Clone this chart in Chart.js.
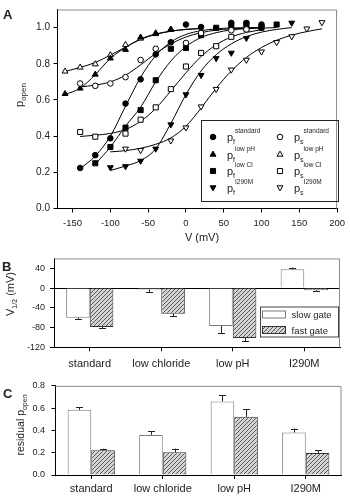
<!DOCTYPE html>
<html>
<head>
<meta charset="utf-8">
<script src="https://cdn.jsdelivr.net/npm/chart.js@4.4.1/dist/chart.umd.min.js"></script>
<style>
  body { margin: 0; background: #fff; }
  #wrap { position: relative; width: 350px; height: 499px; }
  canvas { position: absolute; left: 0; }
</style>
</head>
<body>
<div id="wrap">
  <canvas id="cA" width="350" height="245" style="top:0px"></canvas>
  <canvas id="cB" width="350" height="125" style="top:248px"></canvas>
  <canvas id="cC" width="350" height="125" style="top:374px"></canvas>
</div>
<script>
// ---- panel A: open probability vs voltage ----
const vStdF = [-140, -120, -100, -80, -60, -40, -20, 0, 20, 60, 80, 100];
const pStdF = [0.224, 0.295, 0.388, 0.58, 0.714, 0.852, 0.919, 1.017, 1.003, 1.026, 1.026, 1.017];
const vStdS = [-140, -120, -100, -80, -60, -40, 0, 20, 60, 80];
const pStdS = [0.691, 0.678, 0.691, 0.726, 0.821, 0.883, 0.915, 0.97, 0.985, 0.99];
const vPhF = [-160, -140, -120, -100, -80, -60, -40, -20];
const pPhF = [0.634, 0.664, 0.741, 0.83, 0.878, 0.946, 0.969, 0.99];
const vPhS = [-160, -140, -120, -100, -80, -60, -40, -20];
const pPhS = [0.758, 0.78, 0.798, 0.848, 0.905, 0.94, 0.965, 0.99];
const vClF = [-120, -100, -80, -60, -40, -20, 0, 20, 40, 60, 80, 100, 120];
const pClF = [0.25, 0.34, 0.447, 0.544, 0.709, 0.883, 0.887, 0.958, 0.999, 1.01, 1.02, 1.0, 1.017];
const vClS = [-140, -120, -80, -60, -40, -20, 0, 20, 40, 60, 80];
const pClS = [0.423, 0.397, 0.414, 0.491, 0.559, 0.66, 0.785, 0.86, 0.897, 0.949, 0.994];
const vIF = [-100, -80, -60, -40, -20, 0, 20, 40, 60, 80, 100, 140];
const pIF = [0.227, 0.233, 0.263, 0.33, 0.464, 0.63, 0.737, 0.83, 0.86, 0.942, 1.0, 1.026];
const vIS = [-80, -60, -20, 0, 20, 40, 60, 80, 100, 120, 140, 160, 180];
const pIS = [0.33, 0.322, 0.375, 0.447, 0.563, 0.66, 0.767, 0.821, 0.867, 0.919, 0.951, 0.994, 1.029];

// fitted curves
const fitVStdF = [-140, -120, -100, -80, -60, -40, -20, 0, 20, 40, 60, 100];
const fitPStdF = [0.22, 0.29, 0.40, 0.565, 0.725, 0.845, 0.92, 0.962, 0.983, 0.993, 0.998, 1.0];
const fitVStdS = [-140, -120, -100, -80, -60, -40, -20, 0, 20, 40, 60, 100];
const fitPStdS = [0.672, 0.682, 0.70, 0.737, 0.794, 0.857, 0.91, 0.948, 0.972, 0.986, 0.993, 1.0];
const fitVPhF = [-160, -140, -120, -100, -80, -60, -40, -20, 0, 20];
const fitPPhF = [0.63, 0.665, 0.74, 0.83, 0.89, 0.937, 0.965, 0.98, 0.99, 0.995];
const fitVPhS = [-160, -140, -120, -100, -80, -60, -40, -20, 0, 20];
const fitPPhS = [0.757, 0.78, 0.807, 0.848, 0.892, 0.935, 0.962, 0.98, 0.99, 0.995];
const fitVClF = [-120, -100, -80, -60, -40, -20, 0, 20, 40, 60, 80, 100, 120];
const fitPClF = [0.245, 0.34, 0.455, 0.56, 0.70, 0.815, 0.895, 0.945, 0.972, 0.987, 0.994, 0.997, 1.0];
const fitVClS = [-140, -120, -100, -80, -60, -40, -20, 0, 20, 40, 60, 80, 100];
const fitPClS = [0.398, 0.405, 0.415, 0.437, 0.482, 0.553, 0.65, 0.75, 0.84, 0.905, 0.948, 0.973, 0.988];
const fitVIF = [-100, -80, -60, -40, -20, 0, 20, 40, 60, 80, 100, 120, 140];
const fitPIF = [0.21, 0.235, 0.265, 0.33, 0.47, 0.63, 0.76, 0.85, 0.91, 0.95, 0.975, 0.99, 1.0];
const fitVIS = [-100, -80, -60, -40, -20, 0, 20, 40, 60, 80, 100, 120, 140, 160, 180];
const fitPIS = [0.313, 0.32, 0.333, 0.355, 0.39, 0.455, 0.555, 0.665, 0.76, 0.835, 0.89, 0.93, 0.958, 0.978, 0.993];

const legendSub = ['f', 's'];
const legendSup = ['standard', 'low pH', 'low Cl', 'I290M'];

// ---- panels B and C ----
const conditions = ['standard', 'low chloride', 'low pH', 'I290M'];
const vHalfSlow = [-60, -3, -77, 38];
const vHalfSlowErr = [3, 5, 15, 3.5];
const vHalfFast = [-79, -52, -101, -4.5];
const vHalfFastErr = [2, 5, 6, 2.5];
const resSlow = [0.585, 0.36, 0.661, 0.382];
const resSlowErr = [0.022, 0.035, 0.053, 0.035];
const resFast = [0.222, 0.204, 0.522, 0.198];
const resFastErr = [0.014, 0.033, 0.067, 0.024];

const FONT = '"Liberation Sans", Arial, Helvetica, sans-serif';
const TXT = '#222';

function pts(xs, ys) {
  return xs.map((x, i) => ({ x: x, y: ys[i] }));
}

function markers(xs, ys, style, filled, rot, r) {
  return {
    data: pts(xs, ys), showLine: false,
    pointStyle: style, pointRotation: rot || 0, pointRadius: r,
    pointBackgroundColor: filled ? '#000' : '#fff',
    pointBorderColor: '#000', pointBorderWidth: 1
  };
}

function fitLine(xs, ys) {
  return {
    data: pts(xs, ys), showLine: true, pointRadius: 0,
    borderColor: '#000', borderWidth: 1, cubicInterpolationMode: 'monotone', fill: false
  };
}

// writes text made of parts with own size / baseline shift (sub and superscripts)
function rich(ctx, parts, x, y, align, rotate) {
  ctx.save();
  ctx.translate(x, y);
  if (rotate) ctx.rotate(-Math.PI / 2);
  let w = 0;
  parts.forEach(p => { ctx.font = p.s + 'px ' + FONT; p.w = ctx.measureText(p.t).width; w += p.w; });
  let cx = align === 'center' ? -w / 2 : 0;
  ctx.fillStyle = TXT;
  ctx.textBaseline = 'alphabetic';
  ctx.textAlign = 'left';
  parts.forEach(p => {
    ctx.font = (p.b ? 'bold ' : '') + p.s + 'px ' + FONT;
    ctx.fillText(p.t, cx, p.dy || 0);
    cx += p.w;
  });
  ctx.restore();
}

const framePlugin = {
  id: 'frame',
  afterDraw(chart) {
    const { ctx, chartArea: a } = chart;
    ctx.save();
    ctx.strokeStyle = '#8a8a8a';
    ctx.lineWidth = 1;
    ctx.beginPath();
    ctx.moveTo(a.left, a.top + 0.5);
    ctx.lineTo(a.right - 0.5, a.top + 0.5);
    ctx.lineTo(a.right - 0.5, a.bottom);
    ctx.stroke();
    ctx.restore();
  }
};

const errorBars = {
  id: 'errorBars',
  afterDatasetsDraw(chart) {
    const ctx = chart.ctx;
    const y = chart.scales.y;
    chart.data.datasets.forEach((ds, di) => {
      const meta = chart.getDatasetMeta(di);
      meta.data.forEach((bar, i) => {
        const v = ds.data[i];
        const e = ds.errors[i];
        const end = y.getPixelForValue(v + (v < 0 ? -e : e));
        ctx.save();
        ctx.strokeStyle = '#222';
        ctx.lineWidth = 1;
        ctx.beginPath();
        ctx.moveTo(Math.round(bar.x) + 0.5, bar.y);
        ctx.lineTo(Math.round(bar.x) + 0.5, end);
        ctx.moveTo(Math.round(bar.x) - 3, Math.round(end) + 0.5);
        ctx.lineTo(Math.round(bar.x) + 4, Math.round(end) + 0.5);
        ctx.stroke();
        ctx.restore();
      });
    });
  }
};

function hatchPattern() {
  const c = document.createElement('canvas');
  c.width = 4; c.height = 4;
  const g = c.getContext('2d');
  g.fillStyle = '#d4d4d4';
  g.fillRect(0, 0, 4, 4);
  g.strokeStyle = '#5a5a5a';
  g.lineWidth = 1;
  g.beginPath();
  g.moveTo(0, 4); g.lineTo(4, 0);
  g.moveTo(-1, 1); g.lineTo(1, -1);
  g.moveTo(3, 5); g.lineTo(5, 3);
  g.stroke();
  return g.createPattern(c, 'repeat');
}
const hatch = hatchPattern();

function axisStyle(size, pad) {
  return {
    ticks: { font: { family: FONT, size: size }, color: TXT, padding: pad, maxRotation: 0 },
    grid: { drawOnChartArea: false, tickLength: 4, color: '#000', offset: false },
    border: { color: '#000', width: 1 }
  };
}

// ---------------- panel A ----------------
const datasetsA = [
  markers(vStdF, pStdF, 'circle', true, 0, 2.8),
  markers(vStdS, pStdS, 'circle', false, 0, 2.8),
  markers(vPhF, pPhF, 'triangle', true, 0, 3.4),
  markers(vPhS, pPhS, 'triangle', false, 0, 3.4),
  markers(vClF, pClF, 'rect', true, 0, 3.6),
  markers(vClS, pClS, 'rect', false, 0, 3.6),
  markers(vIF, pIF, 'triangle', true, 180, 3.4),
  markers(vIS, pIS, 'triangle', false, 180, 3.4),
  fitLine(fitVStdF, fitPStdF),
  fitLine(fitVStdS, fitPStdS),
  fitLine(fitVPhF, fitPPhF),
  fitLine(fitVPhS, fitPPhS),
  fitLine(fitVClF, fitPClF),
  fitLine(fitVClS, fitPClS),
  fitLine(fitVIF, fitPIF),
  fitLine(fitVIS, fitPIS)
];

const legendA = {
  id: 'legendA',
  afterDraw(chart) {
    const ctx = chart.ctx;
    ctx.save();
    ctx.strokeStyle = '#222';
    ctx.lineWidth = 1;
    ctx.strokeRect(201.5, 120.5, 137, 81);
    const rows = [137, 154.5, 171, 187.5];
    const symX = [213, 280];
    const txtX = [227, 294];
    rows.forEach((ry, r) => {
      for (let c = 0; c < 2; c++) {
        const ds = chart.data.datasets[r * 2 + c];
        ctx.fillStyle = ds.pointBackgroundColor;
        ctx.strokeStyle = '#000';
        ctx.lineWidth = 1;
        Chart.helpers.drawPoint(ctx, {
          pointStyle: ds.pointStyle, rotation: ds.pointRotation,
          radius: ds.pointRadius, borderWidth: 1
        }, symX[c], ry);
        rich(ctx, [
          { t: 'p', s: 11, dy: 4 },
          { t: legendSub[c], s: 7, dy: 7 },
          { t: legendSup[r], s: 6.5, dy: -4 }
        ], txtX[c], ry, 'left', false);
      }
    });
    ctx.restore();
  }
};

const labelsA = {
  id: 'labelsA',
  afterDraw(chart) {
    const ctx = chart.ctx;
    rich(ctx, [{ t: 'A', s: 13, b: true }], 3, 19, 'left', false);
    rich(ctx, [{ t: 'p', s: 11 }, { t: 'open', s: 8, dy: 3 }], 23, 95, 'center', true);
    rich(ctx, [{ t: 'V (mV)', s: 11 }], 202, 241, 'center', false);
  }
};

const axA = axisStyle(9.5, 5);
const ayA = axisStyle(10, 3.5);
new Chart(document.getElementById('cA'), {
  type: 'scatter',
  data: { datasets: datasetsA },
  options: {
    responsive: false, animation: false, devicePixelRatio: 1,
    layout: { padding: { top: 3, right: 10, left: 0, bottom: 0 } },
    plugins: { legend: { display: false }, tooltip: { enabled: false } },
    scales: {
      x: Object.assign(axA, {
        type: 'linear', min: -170, max: 200,
        ticks: Object.assign(axA.ticks, { stepSize: 50, includeBounds: false }),
        afterFit(s) { s.height = 36.5; }
      }),
      y: Object.assign(ayA, {
        type: 'linear', min: 0, max: 1.1,
        ticks: Object.assign(ayA.ticks, { stepSize: 0.2, includeBounds: false, callback: v => v.toFixed(1) }),
        afterFit(s) { s.width = 57.5; }
      })
    }
  },
  plugins: [framePlugin, legendA, labelsA]
});

// ---------------- panels B and C ----------------
function barLegend(x0, y0) {
  return {
    id: 'barLegend',
    afterDraw(chart) {
      const ctx = chart.ctx;
      ctx.save();
      ctx.strokeStyle = '#444';
      ctx.lineWidth = 1;
      ctx.strokeRect(x0 + 0.5, y0 + 0.5, 78, 30);
      chart.data.datasets.forEach((ds, i) => {
        const sy = y0 + 4.5 + i * 15.5;
        ctx.fillStyle = ds.backgroundColor;
        ctx.fillRect(x0 + 2.5, sy, 23, 7);
        ctx.strokeStyle = ds.borderColor;
        ctx.strokeRect(x0 + 2.5, sy, 23, 7);
        rich(ctx, [{ t: ds.label, s: 9.5 }], x0 + 31.5, sy + 7, 'left', false);
      });
      ctx.restore();
    }
  };
}

function barChart(id, slow, slowErr, fast, fastErr, yOpts, layout, extra) {
  const ax = axisStyle(11, layout.xPad);
  const ay = axisStyle(9, layout.yPad);
  if (yOpts.zeroLine) {
    ay.grid = {
      drawOnChartArea: true, tickLength: 4, tickColor: '#000',
      color: c => (c.tick && c.tick.value === 0 ? '#000' : 'rgba(0,0,0,0)')
    };
  }
  return new Chart(document.getElementById(id), {
    type: 'bar',
    data: {
      labels: conditions,
      datasets: [
        { label: 'slow gate', data: slow, errors: slowErr, backgroundColor: '#fff', borderColor: '#7a7a7a',
          borderWidth: 1, categoryPercentage: 0.66, barPercentage: 1 },
        { label: 'fast gate', data: fast, errors: fastErr, backgroundColor: hatch, borderColor: '#333',
          borderWidth: 1, categoryPercentage: 0.66, barPercentage: 1 }
      ]
    },
    options: {
      responsive: false, animation: false, devicePixelRatio: 1,
      layout: { padding: { top: layout.top, right: layout.right, left: 0, bottom: 0 } },
      plugins: { legend: { display: false }, tooltip: { enabled: false } },
      scales: {
        x: Object.assign(ax, { afterFit(s) { s.height = layout.xh; } }),
        y: Object.assign(ay, {
          min: yOpts.min, max: yOpts.max,
          ticks: Object.assign(ay.ticks, { stepSize: yOpts.step, includeBounds: false, callback: yOpts.fmt }),
          afterFit(s) { s.width = layout.yw; }
        })
      }
    },
    plugins: [framePlugin, errorBars].concat(extra)
  });
}

barChart('cB', vHalfSlow, vHalfSlowErr, vHalfFast, vHalfFastErr,
  { min: -120, max: 60, step: 40, fmt: v => String(v), zeroLine: true },
  { top: 7, right: 10, xh: 25.7, yw: 54, xPad: 6, yPad: 5 },
  [barLegend(260, 58.5), {
    id: 'labelsB',
    afterDraw(chart) {
      const ctx = chart.ctx;
      rich(ctx, [{ t: 'B', s: 13, b: true }], 2, 23, 'left', false);
      rich(ctx, [{ t: 'V', s: 11 }, { t: '1/2', s: 7, dy: 3 }, { t: ' (mV)', s: 11 }], 14, 46, 'center', true);
    }
  }]);

barChart('cC', resSlow, resSlowErr, resFast, resFastErr,
  { min: 0, max: 0.8, step: 0.2, fmt: v => v.toFixed(1), zeroLine: false },
  { top: 5.3, right: 8.5, xh: 24, yw: 55.5, xPad: 3.5, yPad: 6.5 },
  [{
    id: 'labelsC',
    afterDraw(chart) {
      const ctx = chart.ctx;
      rich(ctx, [{ t: 'C', s: 13, b: true }], 3, 24, 'left', false);
      rich(ctx, [{ t: 'residual p', s: 10.5 }, { t: 'open', s: 7, dy: 3 }], 24, 51, 'center', true);
    }
  }]);
</script>
</body>
</html>
